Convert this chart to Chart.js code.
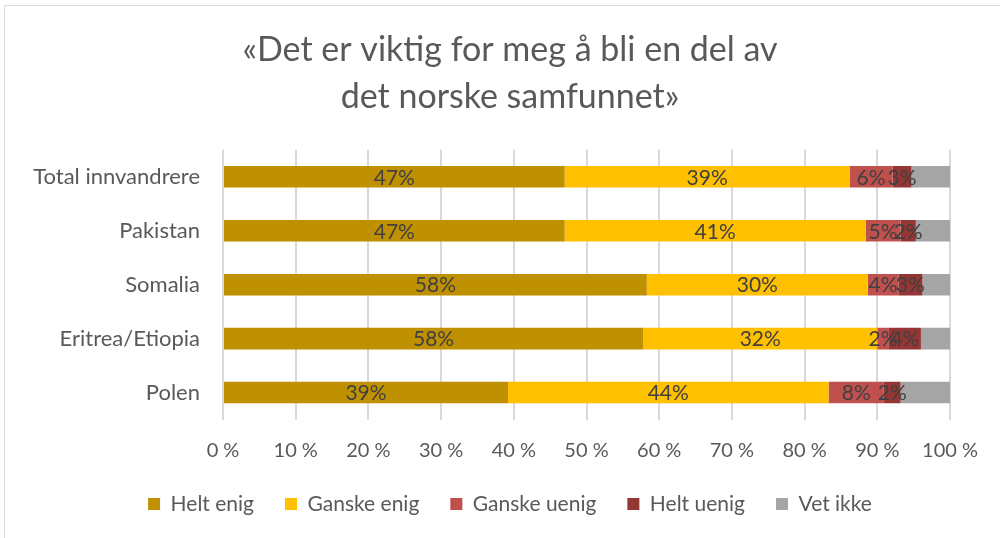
<html>
<head>
  <title>Norske samfunnet</title>
  <script src="https://cdn.jsdelivr.net/npm/chart.js"></script>
  <style>
    body { margin: 0; background: #fff; }
    .frame { position: absolute; left: 4px; top: 5px; width: 1000px; height: 540px; border: 1px solid #d9d9d9; }
    .chart-container { position: absolute; left: 0; top: 0; width: 1000px; height: 538px; }
  </style>
</head>
<body>
  <div class="frame"></div>
  <div class="chart-container">
    <canvas id="surveyChart" width="1000" height="538"></canvas>
  </div>

  <script>
    const categories = ["Total innvandrere", "Pakistan", "Somalia", "Eritrea/Etiopia", "Polen"];
    const heltEnig    = [47.0, 47.0, 58.3, 57.8, 39.2];
    const ganskeEnig  = [39.2, 41.4, 30.4, 32.2, 44.1];
    const ganskeUenig = [5.9, 4.8, 4.2, 1.6, 7.6];
    const heltUenig   = [2.6, 2.1, 3.3, 4.4, 2.3];
    const vetIkke     = [5.3, 4.7, 3.8, 4.0, 6.8];
    const xTicks = [0, 10, 20, 30, 40, 50, 60, 70, 80, 90, 100];

    const fontName = "Lato, 'Open Sans', sans-serif";

    // writes the rounded share in the middle of each segment (not for "Vet ikke")
    const barLabels = {
      id: 'barLabels',
      afterLayout(chart) {
        // tick labels run past their boxes, so widen the clip areas
        chart.scales.y.left = 0;
        chart.scales.x.bottom = chart.height;
      },
      afterDatasetsDraw(chart) {
        const ctx = chart.ctx;
        ctx.save();
        ctx.font = "21px " + fontName;
        ctx.fillStyle = "#404040";
        ctx.textAlign = "center";
        ctx.textBaseline = "middle";
        chart.data.datasets.forEach((ds, i) => {
          if (ds.label === "Vet ikke") return;
          chart.getDatasetMeta(i).data.forEach((bar, j) => {
            const mid = (bar.x + bar.base) / 2;
            ctx.fillText(Math.round(ds.data[j]) + "%", mid, bar.y + 1);
          });
        });
        ctx.restore();
      }
    };

    const ds = (label, data, color) => ({
      label: label,
      data: data,
      backgroundColor: color,
      borderWidth: 0,
      barPercentage: 0.4,
      categoryPercentage: 1
    });

    new Chart(document.getElementById("surveyChart"), {
      type: 'bar',
      data: {
        labels: categories,
        datasets: [
          ds("Helt enig", heltEnig, "#bf9000"),
          ds("Ganske enig", ganskeEnig, "#ffc000"),
          ds("Ganske uenig", ganskeUenig, "#c0504d"),
          ds("Helt uenig", heltUenig, "#943634"),
          ds("Vet ikke", vetIkke, "#a5a5a5")
        ]
      },
      options: {
        indexAxis: 'y',
        responsive: false,
        animation: false,
        layout: { padding: { left: 70, right: 50, top: 0, bottom: 13.5 } },
        plugins: {
          title: {
            display: true,
            text: ["«Det er viktig for meg å bli en del av", "det norske samfunnet»"],
            color: "#595959",
            font: { family: fontName, size: 34, weight: '400', lineHeight: 1.38 },
            padding: { top: 27, bottom: 29 }
          },
          legend: {
            position: 'bottom',
            labels: {
              color: "#595959",
              font: { family: fontName, size: 21 },
              boxWidth: 12,
              boxHeight: 12,
              padding: 31
            }
          },
          tooltip: { enabled: false }
        },
        scales: {
          x: {
            stacked: true,
            min: 0,
            max: 100,
            afterBuildTicks: scale => { scale.ticks = xTicks.map(v => ({ value: v })); },
            afterFit: scale => { scale.height = 43; },
            ticks: {
              color: "#595959",
              font: { family: fontName, size: 20 },
              padding: 19,
              callback: v => v + " %"
            },
            grid: { color: "#d9d9d9", lineWidth: 2, drawTicks: false },
            border: { display: false }
          },
          y: {
            stacked: true,
            afterFit: scale => { scale.width = 153; },
            ticks: {
              color: "#595959",
              font: { family: fontName, size: 22 },
              padding: 15
            },
            grid: { display: false },
            border: { display: false }
          }
        }
      },
      plugins: [barLabels]
    });
  </script>
</body>
</html>
